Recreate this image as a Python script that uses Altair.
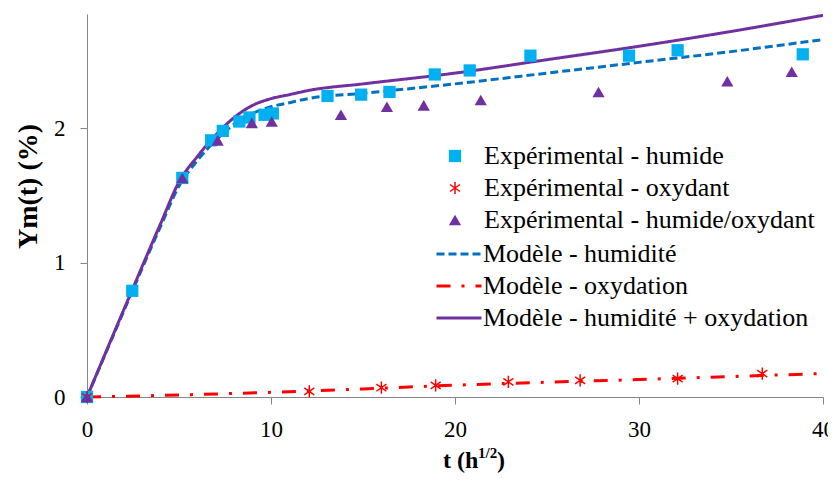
import math
import altair as alt
import pandas as pd

# ---------------- data ----------------
exp_humide_t = [0, 2.46, 5.18, 6.75, 7.38, 8.28, 8.83, 9.65, 10.1, 13.07, 14.9, 16.44, 18.9, 20.8, 24.1, 29.46, 32.1, 38.9]
exp_humide_y = [0, 0.79, 1.63, 1.91, 1.98, 2.05, 2.08, 2.10, 2.11, 2.24, 2.25, 2.27, 2.40, 2.43, 2.54, 2.54, 2.58, 2.55]

exp_oxydant_t = [0, 12.08, 16.0, 18.95, 22.9, 26.8, 32.1, 36.7]
exp_oxydant_y = [0, 0.042, 0.069, 0.087, 0.112, 0.124, 0.137, 0.174]

exp_hum_ox_t = [0, 5.18, 7.1, 8.96, 10.04, 13.8, 16.3, 18.3, 21.4, 27.8, 34.8, 38.3]
exp_hum_ox_y = [0, 1.63, 1.91, 2.04, 2.05, 2.10, 2.16, 2.17, 2.21, 2.27, 2.35, 2.42]

mod_t = [0, 2, 4, 5, 6, 7, 8, 9, 10, 11, 12, 15, 20, 25, 30, 35, 40]
mod_humidite = [0, 0.64, 1.27, 1.57, 1.76, 1.91, 2.03, 2.11, 2.16, 2.19, 2.22, 2.26, 2.33, 2.41, 2.49, 2.57, 2.66]
mod_hum_ox = [0, 0.65, 1.29, 1.60, 1.79, 1.95, 2.08, 2.17, 2.22, 2.25, 2.28, 2.33, 2.41, 2.51, 2.61, 2.72, 2.84]

mod_ox_t = [0, 5, 10, 15, 20, 25, 30, 35, 40]
mod_oxydation = [0, 0.015, 0.035, 0.06, 0.088, 0.11, 0.13, 0.152, 0.175]

exp_names = ["Expérimental - humide", "Expérimental - oxydant", "Expérimental - humide/oxydant"]
mod_names = ["Modèle - humidité", "Modèle - oxydation", "Modèle - humidité + oxydation"]

x_ticks = [0, 10, 20, 30, 40]
y_ticks = [0, 1, 2]

y_title = "Ym(t)  (%)"
x_title_main = "t (h"
x_title_sup = "1/2"
x_title_end = ")"

# ---------------- styles ----------------
FONT = "'Liberation Serif', 'Times New Roman', 'DejaVu Serif', serif"
C_SQ = "#00B0F0"
C_RED = "#FF0000"
C_PURPLE = "#7030A0"
C_BLUE = "#0070C0"
AXIS_GRAY = "#868686"


def star_path(w=0.12):
    parts = []
    for ang in (0, 55, -55):
        a = math.radians(ang)
        ux, uy = math.sin(a), -math.cos(a)
        vx, vy = math.cos(a), math.sin(a)
        pts = [(ux + vx * w, uy + vy * w), (ux - vx * w, uy - vy * w),
               (-ux - vx * w, -uy - vy * w), (-ux + vx * w, -uy + vy * w)]
        parts.append("M" + " L".join(f"{px:.3f},{py:.3f}" for px, py in pts) + " Z")
    return " ".join(parts)


df_sq = pd.DataFrame({"t": exp_humide_t, "y": exp_humide_y, "serie": exp_names[0]})
df_st = pd.DataFrame({"t": exp_oxydant_t, "y": exp_oxydant_y, "serie": exp_names[1]})
df_tr = pd.DataFrame({"t": exp_hum_ox_t, "y": exp_hum_ox_y, "serie": exp_names[2]})

df_mh = pd.DataFrame({"t": mod_t, "y": mod_humidite, "modele": mod_names[0]})
df_mo = pd.DataFrame({"t": mod_ox_t, "y": mod_oxydation, "modele": mod_names[1]})
df_ms = pd.DataFrame({"t": mod_t, "y": mod_hum_ox, "modele": mod_names[2]})

x_axis = alt.Axis(values=x_ticks, title=None, grid=False, labelFont=FONT, labelFontSize=23,
                  labelColor="black", labelPadding=14, tickSize=7, tickColor=AXIS_GRAY,
                  domainColor=AXIS_GRAY, labelFlush=False)
y_axis = alt.Axis(values=y_ticks, title=y_title, grid=False, labelFont=FONT, labelFontSize=23,
                  labelColor="black", labelPadding=15, tickSize=7, tickColor=AXIS_GRAY,
                  domainColor=AXIS_GRAY, titleFont=FONT, titleFontSize=28, titleFontWeight="bold",
                  titleColor="black", titleX=-45, titleY=172, titleAngle=-90)

x_enc = alt.X("t:Q", scale=alt.Scale(domain=[0, 40], nice=False), axis=x_axis)
y_enc = alt.Y("y:Q", scale=alt.Scale(domain=[0, 2.85], nice=False), axis=y_axis)

leg_pts = alt.Legend(title=None, orient="none", legendX=355, legendY=129, labelFont=FONT,
                     labelFontSize=26, labelColor="black", rowPadding=6, labelOffset=16,
                     labelLimit=0, symbolSize=150, padding=0)
leg_lines = alt.Legend(title=None, orient="none", legendX=348, legendY=227, labelFont=FONT,
                       labelFontSize=26, labelColor="black", rowPadding=6, labelOffset=0,
                       labelLimit=0, symbolType="stroke", symbolSize=2025, symbolStrokeWidth=3,
                       clipHeight=26, padding=0)

color_enc = alt.Color("serie:N", scale=alt.Scale(domain=exp_names, range=[C_SQ, C_RED, C_PURPLE]),
                      legend=leg_pts)
shape_enc = alt.Shape("serie:N", scale=alt.Scale(domain=exp_names, range=["square", star_path(), "triangle-up"]),
                      legend=leg_pts)
stroke_enc = alt.Stroke("modele:N", scale=alt.Scale(domain=mod_names, range=[C_BLUE, C_RED, C_PURPLE]),
                        legend=leg_lines)
dash_enc = alt.StrokeDash("modele:N", scale=alt.Scale(domain=mod_names, range=[[8, 4], [14, 11, 3, 11], [1, 0]]),
                          legend=leg_lines)


def line_layer(df):
    return alt.Chart(df).mark_line(strokeWidth=3, interpolate="monotone").encode(
        x=x_enc, y=y_enc, stroke=stroke_enc, strokeDash=dash_enc)


def point_layer(df, size):
    return alt.Chart(df).mark_point(filled=True, opacity=1, size=size).encode(
        x=x_enc, y=y_enc, color=color_enc, shape=shape_enc)


one = pd.DataFrame({"a": [0]})
title_kw = dict(font=FONT, fontWeight="bold", color="black", align="left", baseline="alphabetic")
t_main = alt.Chart(one).mark_text(text=x_title_main, fontSize=24, **title_kw).encode(
    x=alt.value(356), y=alt.value(454))
t_sup = alt.Chart(one).mark_text(text=x_title_sup, fontSize=15, **title_kw).encode(
    x=alt.value(391), y=alt.value(444))
t_end = alt.Chart(one).mark_text(text=x_title_end, fontSize=24, **title_kw).encode(
    x=alt.value(410), y=alt.value(454))

chart = alt.layer(
    line_layer(df_mh), line_layer(df_mo), line_layer(df_ms),
    point_layer(df_sq, 150), point_layer(df_st, 150), point_layer(df_tr, 150),
    t_main, t_sup, t_end,
).properties(
    width=736, height=383,
    autosize=alt.AutoSizeParams(type="none"),
    padding={"left": 79, "top": 6, "right": 5, "bottom": 77},
).configure_view(stroke=None)

chart.save("out.html", embed_options={"renderer": "svg", "actions": False})
